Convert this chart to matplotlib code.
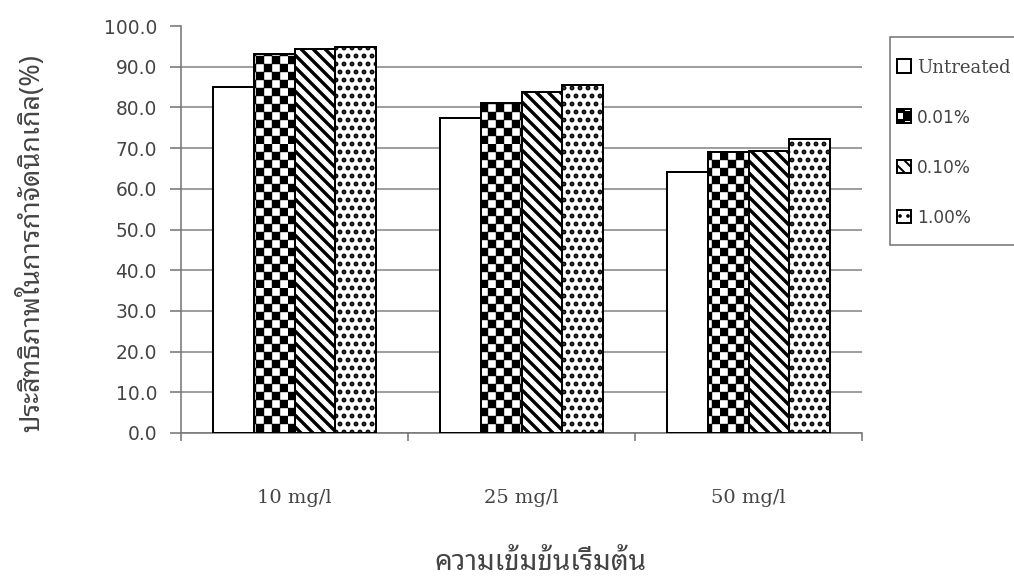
import numpy as np
import matplotlib
matplotlib.use("Agg")
from matplotlib import pyplot as plt
from matplotlib import hatch as mhatch
from matplotlib.patches import Rectangle
from matplotlib.path import Path

# data
categories = ["10 mg/l", "25 mg/l", "50 mg/l"]
series = ["Untreated", "0.01%", "0.10%", "1.00%"]
untreated = [85.0, 77.3, 64.2]
conc_001 = [93.0, 81.0, 69.0]
conc_010 = [94.3, 83.9, 69.4]
conc_100 = [94.9, 85.5, 72.2]
y_label = "ประสิทธิภาพในการกำจัดนิกเกิล(%)"
x_label = "ความเข้มข้นเริ่มต้น"

thai_family = ["Noto Sans Thai Looped", "DejaVu Sans"]


class CheckerHatch(mhatch.HatchPatternBase):
    # checkerboard of filled squares, takes over the '*' hatch
    def __init__(self, hatch, density):
        self.num_cells = hatch.count('*') * density
        self.num_vertices = 5 * (self.num_cells ** 2 // 2)

    def set_vertices_and_codes(self, vertices, codes):
        n = self.num_cells
        sq = np.array([[0, 0], [1, 0], [1, 1], [0, 1], [0, 0]], float)
        k = 0
        for i in range(n):
            for j in range(n):
                if (i + j) % 2 == 0:
                    vertices[k:k + 5] = (sq + [i, j]) / n
                    codes[k:k + 5] = [Path.MOVETO, Path.LINETO, Path.LINETO,
                                      Path.LINETO, Path.CLOSEPOLY]
                    k += 5


mhatch._hatch_types = [t for t in mhatch._hatch_types if t is not mhatch.Stars] + [CheckerHatch]

fig = plt.figure(figsize=(1014 / 144, 579 / 144), dpi=144)
ax = fig.add_axes([181 / 1014, 1 - 433 / 579, 681 / 1014, 407 / 579])

x = np.arange(len(categories))
w = 0.18
styles = [("", 1.0), ("***", 0.2), ("\\\\\\\\", 1.7), ("...", 1.6)]
values = [untreated, conc_001, conc_010, conc_100]
for k, (vals, (h, hlw)) in enumerate(zip(values, styles)):
    with plt.rc_context({"hatch.linewidth": hlw}):
        ax.bar(x + (k - 1.5) * w, vals, w, color="white", edgecolor="black",
               linewidth=1.0, hatch=h, label=series[k], zorder=3)

ax.set_xlim(-0.5, 2.5)
ax.set_ylim(0, 100)
ax.set_yticks(np.arange(0, 101, 10))
ax.set_yticklabels(["%.1f" % v for v in np.arange(0, 101, 10)],
                   fontfamily="DejaVu Sans", fontsize=9.3, color="#444444")
ax.set_xticks([-0.5, 0.5, 1.5, 2.5])
ax.set_xticklabels([])
ax.set_xticks(x, minor=True)
ax.set_xticklabels(categories, minor=True, fontfamily="DejaVu Serif", fontsize=9.7,
                   color="#444444")
ax.tick_params(axis="x", which="minor", length=0, pad=28)
ax.tick_params(axis="x", which="major", length=4, width=0.8, color="#777777")
ax.tick_params(axis="y", length=5.5, width=0.8, color="#777777", pad=6.5)
ax.grid(axis="y", color="#888888", linewidth=0.8, zorder=0)
ax.get_ygridlines()[-1].set_visible(False)
for s in ["top", "right"]:
    ax.spines[s].set_visible(False)
for s in ["left", "bottom"]:
    ax.spines[s].set_color("#777777")
    ax.spines[s].set_linewidth(0.8)

fig.text(32 / 1014, 1 - 243 / 579, y_label, family=thai_family, fontsize=13.5,
         color="#444444", rotation=90, ha="center", va="center")
fig.text(540 / 1014, 1 - 563 / 579, x_label, family=thai_family, fontsize=14,
         color="#444444", ha="center", va="center")

# legend box runs off the right edge in the reference
fig.add_artist(Rectangle((890 / 1014, 1 - 245 / 579), 140 / 1014, 208 / 579,
                         transform=fig.transFigure, facecolor="white",
                         edgecolor="#777777", linewidth=0.8))
leg = fig.legend(loc="upper left", bbox_to_anchor=(893 / 1014, 1 - 55 / 579),
                 frameon=False, prop={"family": "DejaVu Serif", "size": 9},
                 labelspacing=1.78, handlelength=0.8, handleheight=0.8,
                 handletextpad=0.35, borderpad=0.2, borderaxespad=0)
for t in leg.get_texts():
    t.set_color("#444444")
for t in leg.get_texts()[1:]:
    t.set_fontfamily("DejaVu Sans")
    t.set_fontsize(8.5)

fig.savefig("out.png", dpi=144)
